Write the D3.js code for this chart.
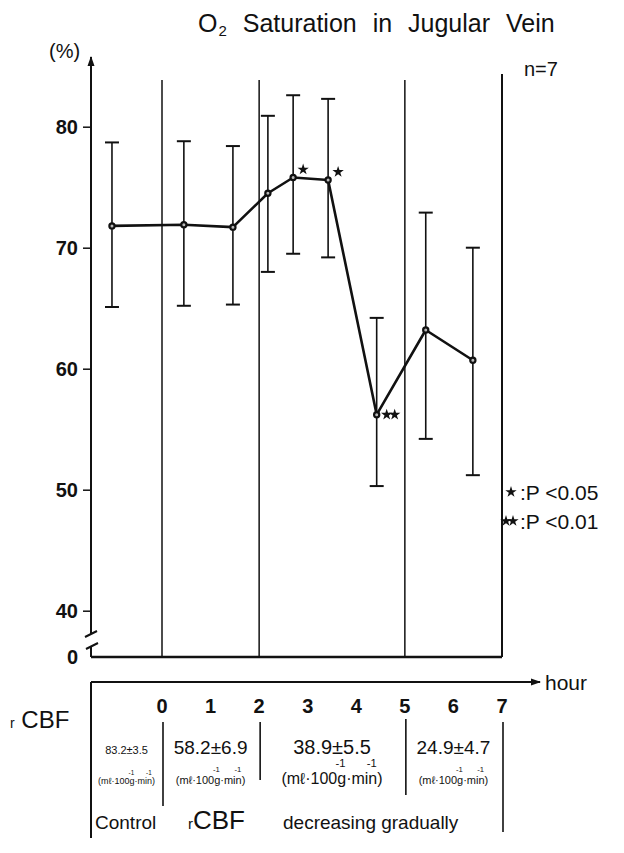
<!DOCTYPE html>
<html>
<head>
<meta charset="utf-8">
<script src="https://cdn.jsdelivr.net/npm/d3@7"></script>
<style>
body { margin: 0; background: #fff; }
text { font-family: "Liberation Sans", Arial, sans-serif; fill: #111; }
</style>
</head>
<body>
<div id="chart"></div>
<script>
// measurement times (hours, control before 0) and O2 saturation (%)
const times = [-1.03, 0.45, 1.46, 2.18, 2.70, 3.42, 4.42, 5.43, 6.40]
const means = [71.8, 71.9, 71.7, 74.5, 75.8, 75.6, 56.2, 63.2, 60.7]
const upper = [78.7, 78.8, 78.4, 80.9, 82.6, 82.3, 64.2, 72.9, 70.0]
const lower = [65.1, 65.2, 65.3, 68.0, 69.5, 69.2, 50.3, 54.2, 51.2]
const stars = [0, 0, 0, 0, 1, 1, 2, 0, 0]
const yTicks = [40, 50, 60, 70, 80]
const dividers = [0, 2, 5, 7]
const hourLabels = ['0', '1', '2', '3', '4', '5', '6', '7']
const cbfValues = ['83.2±3.5', '58.2±6.9', '38.9±5.5', '24.9±4.7']
const cbfCenters = [-0.73, 1, 3.5, 6]

/***********************************************************************/
//Plot Area
/***********************************************************************/
const width = 624
const height = 853

const svg = d3.select('#chart')
	.append('svg')
	.attr('width', width)
	.attr('height', height)

const axisX = 91
const boxBottom = 657
const hourY = 682

const xScale = d3.scaleLinear()
	.domain([0, 7])
	.range([162, 502])

const yScale = d3.scaleLinear()
	.domain([40, 80])
	.range([610.7, 126.7])

svg.append('defs').append('marker')
	.attr('id', 'arrow')
	.attr('viewBox', '0 0 10 10')
	.attr('refX', 9).attr('refY', 5)
	.attr('markerWidth', 10).attr('markerHeight', 10)
	.attr('markerUnits', 'userSpaceOnUse')
	.attr('orient', 'auto')
	.append('path')
	.attr('d', 'M0,1.5L10,5L0,8.5Z')
	.attr('fill', '#111')

/***********************************************************************/
//Titles
/***********************************************************************/
const title = svg.append('text')
	.attr('x', 198)
	.attr('y', 32)
	.style('font-size', '25px')
	.style('word-spacing', '9px')
title.append('tspan').text('O')
title.append('tspan').text('2').style('font-size', '15px').attr('dy', 4).attr('dx', 1)
title.append('tspan').text(' Saturation in Jugular Vein').attr('dy', -4)

svg.append('text')
	.attr('x', 49).attr('y', 58)
	.style('font-size', '20px')
	.text('(%)')

svg.append('text')
	.attr('x', 524).attr('y', 76)
	.style('font-size', '20px')
	.text('n=7')

/***********************************************************************/
//Axes
/***********************************************************************/
const yAxis = d3.axisLeft(yScale)
	.tickValues(yTicks)
	.tickSize(8)
	.tickSizeOuter(0)
	.tickPadding(5)

const yAxisG = svg.append('g')
	.attr('transform', `translate(${axisX},0)`)
	.call(yAxis)

yAxisG.select('.domain').remove()
yAxisG.selectAll('.tick line').attr('stroke', '#111').attr('stroke-width', 1.5)
yAxisG.selectAll('.tick text')
	.style('font-size', '20px')
	.style('font-weight', 'bold')
	.attr('fill', '#111')

// axis line with break
svg.append('line')
	.attr('x1', axisX).attr('x2', axisX)
	.attr('y1', boxBottom).attr('y2', 647)
	.attr('stroke', '#111').attr('stroke-width', 2)
svg.append('line')
	.attr('x1', axisX).attr('x2', axisX)
	.attr('y1', 634).attr('y2', 57)
	.attr('stroke', '#111').attr('stroke-width', 2)
	.attr('marker-end', 'url(#arrow)')
svg.append('path')
	.attr('d', `M${axisX - 6},${637}L${axisX + 6},${631}M${axisX - 5},${649}L${axisX + 7},${643}`)
	.attr('stroke', '#111').attr('stroke-width', 2)

svg.append('text')
	.attr('x', axisX - 13).attr('y', boxBottom)
	.attr('text-anchor', 'end')
	.attr('dy', '0.36em')
	.style('font-size', '20px')
	.style('font-weight', 'bold')
	.text('0')

// box bottom and vertical dividers
svg.append('line')
	.attr('x1', axisX).attr('x2', xScale(7))
	.attr('y1', boxBottom).attr('y2', boxBottom)
	.attr('stroke', '#111').attr('stroke-width', 2.5)

svg.selectAll('.divider')
	.data(dividers)
	.join('line')
	.attr('class', 'divider')
	.attr('x1', d => xScale(d)).attr('x2', d => xScale(d))
	.attr('y1', d => d === 7 ? 74 : 80)
	.attr('y2', boxBottom)
	.attr('stroke', '#111')
	.attr('stroke-width', d => d === 7 ? 2 : 1.5)

/***********************************************************************/
// Plotting
/***********************************************************************/
const pts = times.map((t, i) => ({ t, m: means[i], hi: upper[i], lo: lower[i], s: stars[i] }))

const bars = svg.append('g')
pts.forEach(p => {
	const x = xScale(p.t)
	bars.append('line')
		.attr('x1', x).attr('x2', x)
		.attr('y1', yScale(p.hi)).attr('y2', yScale(p.lo))
		.attr('stroke', '#111').attr('stroke-width', 1.6)
	;[p.hi, p.lo].forEach(v => {
		bars.append('line')
			.attr('x1', x - 7).attr('x2', x + 7)
			.attr('y1', yScale(v)).attr('y2', yScale(v))
			.attr('stroke', '#111').attr('stroke-width', 2)
	})
})

const line = d3.line()
	.x(d => xScale(d.t))
	.y(d => yScale(d.m))

svg.append('path')
	.datum(pts)
	.attr('d', line)
	.attr('fill', 'none')
	.attr('stroke', '#111')
	.attr('stroke-width', 2.6)
	.attr('stroke-linejoin', 'round')

svg.selectAll('.dot')
	.data(pts)
	.join('circle')
	.attr('class', 'dot')
	.attr('cx', d => xScale(d.t))
	.attr('cy', d => yScale(d.m))
	.attr('r', 2.6)
	.attr('fill', '#bbb')
	.attr('stroke', '#111')
	.attr('stroke-width', 2.2)

const star = d3.symbol().type(d3.symbolStar).size(40)

pts.filter(p => p.s > 0).forEach(p => {
	const x = xScale(p.t)
	const y = yScale(p.m)
	if (p.s === 1) {
		svg.append('path').attr('d', star)
			.attr('transform', `translate(${x + 10},${y - 8})`)
			.attr('fill', '#111')
	} else {
		d3.range(2).forEach(k => {
			svg.append('path').attr('d', star)
				.attr('transform', `translate(${x + 10 + k * 8},${y})`)
				.attr('fill', '#111')
		})
	}
})

// significance legend
svg.append('path').attr('d', star)
	.attr('transform', 'translate(511,492)')
	.attr('fill', '#111')
svg.append('text')
	.attr('x', 520).attr('y', 500)
	.style('font-size', '21px')
	.text(':P <0.05')
d3.range(2).forEach(k => {
	svg.append('path').attr('d', star)
		.attr('transform', `translate(${506 + k * 7},521)`)
		.attr('fill', '#111')
})
svg.append('text')
	.attr('x', 520).attr('y', 529)
	.style('font-size', '21px')
	.text(':P <0.01')

/***********************************************************************/
// Lower timeline
/***********************************************************************/
svg.append('line')
	.attr('x1', axisX).attr('x2', 540)
	.attr('y1', hourY).attr('y2', hourY)
	.attr('stroke', '#111').attr('stroke-width', 2)
	.attr('marker-end', 'url(#arrow)')
svg.append('line')
	.attr('x1', axisX).attr('x2', axisX)
	.attr('y1', hourY).attr('y2', 838)
	.attr('stroke', '#111').attr('stroke-width', 2)

svg.append('text')
	.attr('x', 545).attr('y', 690)
	.style('font-size', '21px')
	.text('hour')

const rcbf = svg.append('text')
	.attr('x', 10).attr('y', 728)
rcbf.append('tspan').text('r').style('font-size', '14px')
rcbf.append('tspan').text(' CBF').style('font-size', '24px')

svg.selectAll('.hour')
	.data(hourLabels)
	.join('text')
	.attr('class', 'hour')
	.attr('x', (d, i) => xScale(i))
	.attr('y', 713)
	.attr('text-anchor', 'middle')
	.style('font-size', '20px')
	.style('font-weight', 'bold')
	.text(d => d)

const sepRanges = [[722, 806], [722, 780], [719, 795], [722, 832]]
svg.selectAll('.sep')
	.data(dividers)
	.join('line')
	.attr('class', 'sep')
	.attr('x1', d => xScale(d) + 1).attr('x2', d => xScale(d) + 1)
	.attr('y1', (d, i) => sepRanges[i][0])
	.attr('y2', (d, i) => sepRanges[i][1])
	.attr('stroke', '#111').attr('stroke-width', 1.6)

const valSizes = [11, 19, 20, 19]
const unitSizes = [9, 11, 16, 11]
cbfValues.forEach((v, i) => {
	const cx = xScale(cbfCenters[i])
	svg.append('text')
		.attr('x', cx).attr('y', 754)
		.attr('text-anchor', 'middle')
		.style('font-size', valSizes[i] + 'px')
		.text(v)

	const fs = unitSizes[i]
	const unit = svg.append('text')
		.attr('x', cx).attr('y', 784)
		.attr('text-anchor', 'middle')
		.style('font-size', fs + 'px')
		.text('(mℓ·100g·min)')
	const node = unit.node()
	const w = node.getComputedTextLength()
	const left = cx - w / 2
	const p1 = left + node.getSubStringLength(0, 8)
	const p2 = left + node.getSubStringLength(0, 12)
	;[p1, p2].forEach(px => {
		svg.append('text')
			.attr('x', px - fs * 0.35).attr('y', 784 - fs * 1.05)
			.attr('text-anchor', 'middle')
			.style('font-size', (fs * 0.7) + 'px')
			.text('-1')
	})
})

const bottomRow = svg.append('text')
	.attr('x', 95).attr('y', 829)
	.style('font-size', '19px')
bottomRow.append('tspan').text('Control')
bottomRow.append('tspan').attr('x', 188).text('r').style('font-size', '15px')
bottomRow.append('tspan').text('CBF').style('font-size', '26px')
bottomRow.append('tspan').attr('x', 283).text('decreasing  gradually')
</script>
</body>
</html>
